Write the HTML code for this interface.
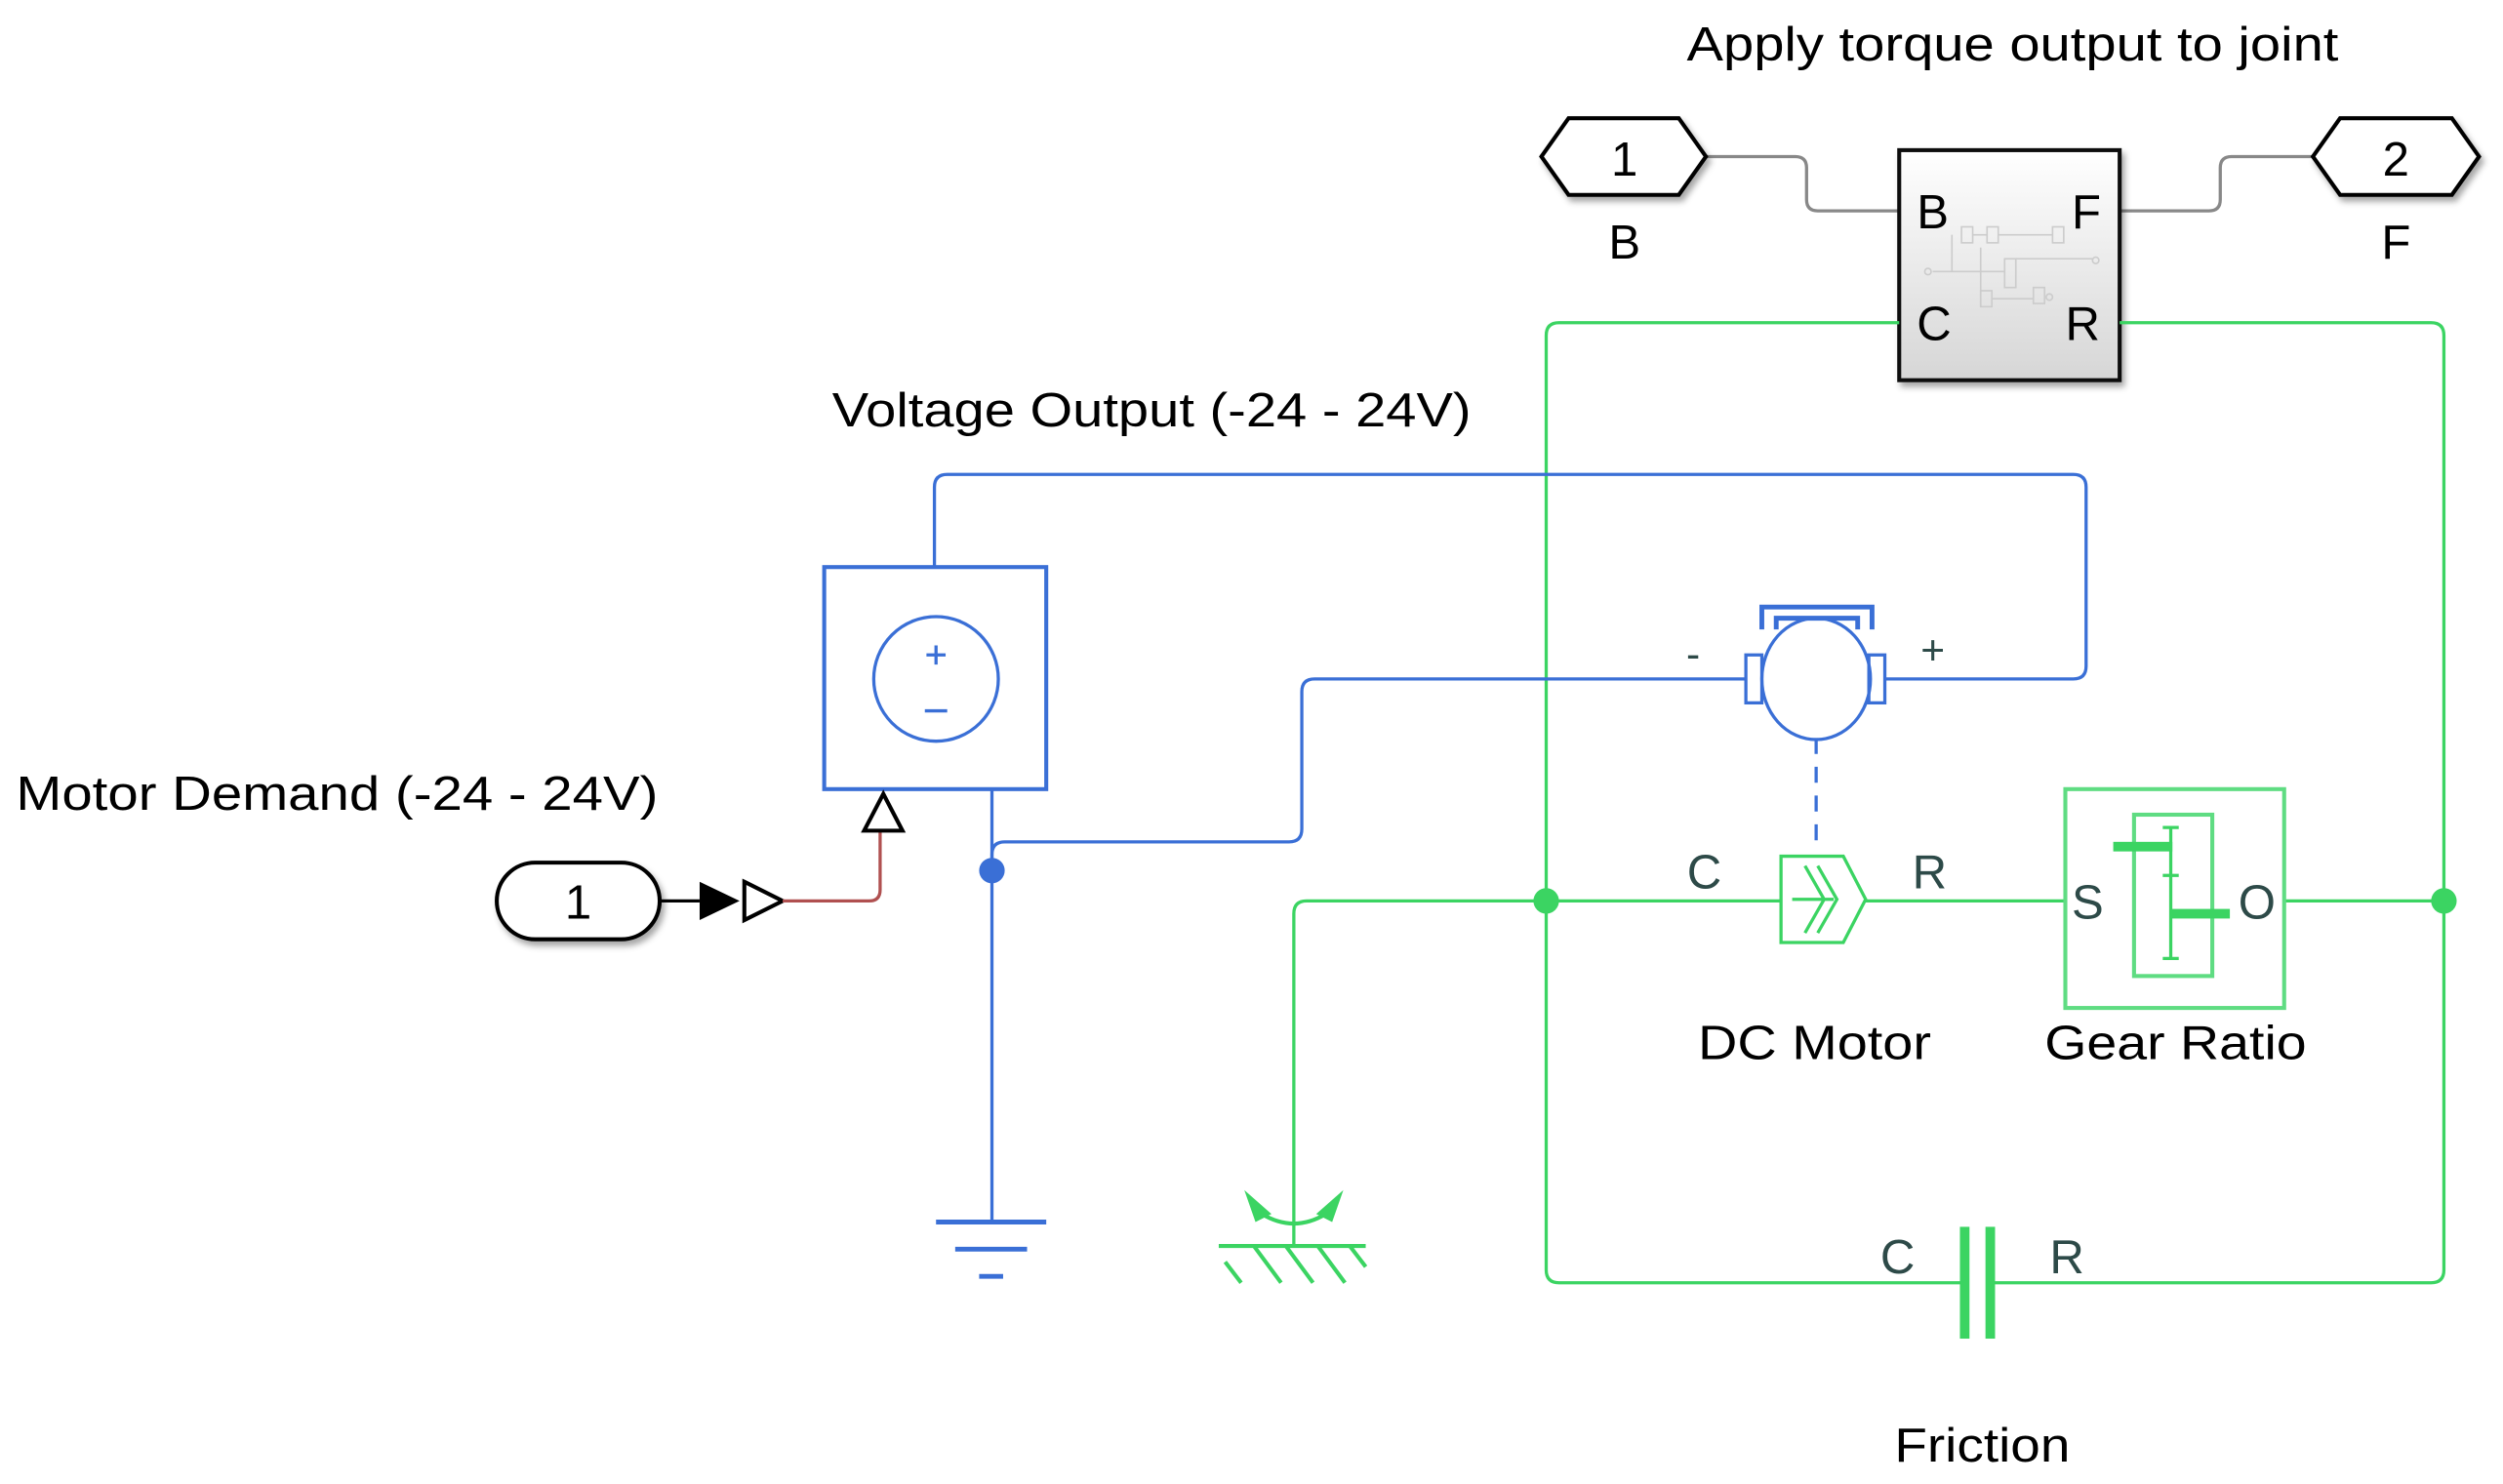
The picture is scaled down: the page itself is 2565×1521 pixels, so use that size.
<!DOCTYPE html>
<html><head><meta charset="utf-8"><style>
html,body{margin:0;padding:0;background:#fff;}
svg{display:block;}
text{font-family:"Liberation Sans",Arial,sans-serif;}
</style></head><body>
<svg width="2565" height="1521" viewBox="0 0 1567 929" preserveAspectRatio="none" xmlns="http://www.w3.org/2000/svg">
<defs>
<linearGradient id="g" x1="0" y1="0" x2="0" y2="1"><stop offset="0" stop-color="#ffffff"/><stop offset="1" stop-color="#d6d6d6"/></linearGradient>
<filter id="sh" x="-20%" y="-20%" width="150%" height="150%"><feDropShadow dx="2" dy="3" stdDeviation="2" flood-color="#000" flood-opacity="0.35"/></filter>
</defs>
<rect width="1567" height="929" fill="#fff"/>

<text x="1260" y="38" font-size="30" text-anchor="middle" textLength="408" lengthAdjust="spacingAndGlyphs">Apply torque output to joint</text>
<text x="521" y="267" font-size="30" textLength="400" lengthAdjust="spacingAndGlyphs">Voltage Output (-24 - 24V)</text>
<text x="10" y="507" font-size="30" textLength="402" lengthAdjust="spacingAndGlyphs">Motor Demand (-24 - 24V)</text>

<path d="M1068,98 H1124 Q1131,98 1131,105 V125 Q1131,132 1138,132 H1189" fill="none" stroke="#888" stroke-width="2"/>
<path d="M1327,132 H1383 Q1390,132 1390,125 V105 Q1390,98 1397,98 H1448" fill="none" stroke="#888" stroke-width="2"/>

<polygon points="965,98 982,74 1051,74 1068,98 1051,122 982,122" fill="#fff" stroke="#000" stroke-width="2.5" filter="url(#sh)"/>
<text x="1017" y="110" font-size="30" text-anchor="middle">1</text>
<text x="1017" y="162" font-size="30" text-anchor="middle">B</text>
<polygon points="1448,98 1465,74 1535,74 1552,98 1535,122 1465,122" fill="#fff" stroke="#000" stroke-width="2.5" filter="url(#sh)"/>
<text x="1500" y="110" font-size="30" text-anchor="middle">2</text>
<text x="1500" y="162" font-size="30" text-anchor="middle">F</text>

<rect x="1189" y="94" width="138" height="144" fill="url(#g)" stroke="#111" stroke-width="2.5" filter="url(#sh)"/>
<g stroke="#ccc" stroke-width="1" fill="none">
<rect x="1228" y="142" width="7" height="10"/><rect x="1244" y="142" width="7" height="10"/><rect x="1285" y="142" width="7" height="10"/>
<rect x="1255" y="162" width="7" height="18"/><rect x="1240" y="182" width="7" height="10"/><rect x="1273" y="180" width="7" height="10"/>
<path d="M1235,147 H1244 M1251,147 H1285 M1210,170 H1255 M1262,162 H1310 M1247,187 H1273 M1222,147 V170 M1240,155 V192"/>
<circle cx="1207" cy="170" r="2"/><circle cx="1312" cy="163" r="2"/><circle cx="1283" cy="186" r="2"/>
</g>
<text x="1200" y="143" font-size="30">B</text>
<text x="1297" y="143" font-size="30">F</text>
<text x="1200" y="213" font-size="30">C</text>
<text x="1293" y="213" font-size="30">R</text>

<g fill="none" stroke="#3bd462" stroke-width="2">
<path d="M1189,202 H976 Q968,202 968,210 V795 Q968,803 976,803 H1230"/>
<path d="M1327,202 H1522 Q1530,202 1530,210 V795 Q1530,803 1522,803 H1246"/>
<path d="M810,780 V572 Q810,564 818,564 H1115"/>
<path d="M1168,564 H1293"/>
<path d="M1430,564 H1530"/>
</g>
<circle cx="968" cy="564" r="8" fill="#3bd462"/>
<circle cx="1530" cy="564" r="8" fill="#3bd462"/>

<rect x="1227" y="768" width="6" height="70" fill="#3bd462"/>
<rect x="1243" y="768" width="6" height="70" fill="#3bd462"/>
<text x="1188" y="797" font-size="30" fill="#2d4a48" text-anchor="middle">C</text>
<text x="1294" y="797" font-size="30" fill="#2d4a48" text-anchor="middle">R</text>
<text x="1241" y="915" font-size="30" text-anchor="middle" textLength="110" lengthAdjust="spacingAndGlyphs">Friction</text>

<g stroke="#3bd462" stroke-width="2.5" fill="none">
<path d="M763,780 H855"/>
<path d="M767,790 L777,803 M785,780 L802,803 M805,780 L822,803 M825,780 L842,803 M845,780 L855,793"/>
<path d="M790,760 Q810,772 830,760"/>
</g>
<polygon points="779,745 796,760 786,765" fill="#3bd462"/>
<polygon points="841,745 834,765 824,760" fill="#3bd462"/>

<g stroke="#3bd462" stroke-width="2" fill="none">
<path d="M1115,536 H1154 L1168,563 L1154,590 H1115 Z"/>
<path d="M1138,542 L1150,563 L1138,584 M1130,542 L1142,563 L1130,584 M1122,563 H1148"/>
</g>
<text x="1067" y="556" font-size="30" fill="#2d4a48" text-anchor="middle">C</text>
<text x="1208" y="556" font-size="30" fill="#2d4a48" text-anchor="middle">R</text>
<text x="1136" y="663" font-size="30" text-anchor="middle" textLength="146" lengthAdjust="spacingAndGlyphs">DC Motor</text>

<rect x="1293" y="494" width="137" height="137" fill="none" stroke="#5fdc82" stroke-width="2.5"/>
<rect x="1336" y="510" width="49" height="101" fill="none" stroke="#5fdc82" stroke-width="2.5"/>
<g stroke="#3bd462" stroke-width="2"><path d="M1359,518 V600 M1354,518 H1364 M1354,600 H1364 M1354,548 H1364"/></g>
<rect x="1323" y="527" width="37" height="6" fill="#3bd462"/>
<rect x="1359" y="569" width="37" height="6" fill="#3bd462"/>
<text x="1307" y="575" font-size="30" fill="#2d4a48" text-anchor="middle">S</text>
<text x="1413" y="575" font-size="30" fill="#2d4a48" text-anchor="middle">O</text>
<text x="1362" y="663" font-size="30" text-anchor="middle" textLength="164" lengthAdjust="spacingAndGlyphs">Gear Ratio</text>

<g fill="none" stroke="#3a6fd6" stroke-width="2">
<path d="M585,355 V305 Q585,297 593,297 H1298 Q1306,297 1306,305 V417 Q1306,425 1298,425 H1180"/>
<path d="M1093,425 H823 Q815,425 815,433 V519 Q815,527 807,527 H629 Q621,527 621,535 V765"/>
<path d="M621,494 V545"/>
<path d="M1137,462 V530" stroke-dasharray="10,8"/>
<rect x="516" y="355" width="139" height="139" stroke-width="2.5"/>
<circle cx="586" cy="425" r="39"/>
<path d="M580,410 H592 M586,404 V416 M579,445 H593"/>
<ellipse cx="1137" cy="425" rx="34" ry="38"/>
<rect x="1093" y="410" width="10" height="30"/>
<rect x="1170" y="410" width="10" height="30"/>
<path d="M1103,394 V380 H1172 V394 M1112,394 V387 H1163 V394" stroke-width="3"/>
<path d="M586,765 H655 M598,782 H643 M613,799 H628" stroke-width="3"/>
</g>
<circle cx="621" cy="545" r="8" fill="#3a6fd6"/>
<text x="1060" y="418" font-size="26" fill="#2d4a48" text-anchor="middle">-</text>
<text x="1210" y="416" font-size="26" fill="#2d4a48" text-anchor="middle">+</text>

<rect x="311" y="540" width="102" height="48" rx="24" fill="#fff" stroke="#000" stroke-width="2.5" filter="url(#sh)"/>
<text x="362" y="575" font-size="30" text-anchor="middle">1</text>
<path d="M413,564 H438" stroke="#000" stroke-width="2"/>
<polygon points="438,552 463,564 438,576" fill="#000"/>
<polygon points="466,552 490,564 466,576" fill="#fff" stroke="#000" stroke-width="2.5"/>
<path d="M490,564 H544 Q551,564 551,557 V520" fill="none" stroke="#b05050" stroke-width="2"/>
<polygon points="541,520 553,497 565,520" fill="#fff" stroke="#000" stroke-width="2.5"/>
</svg>
</body></html>
